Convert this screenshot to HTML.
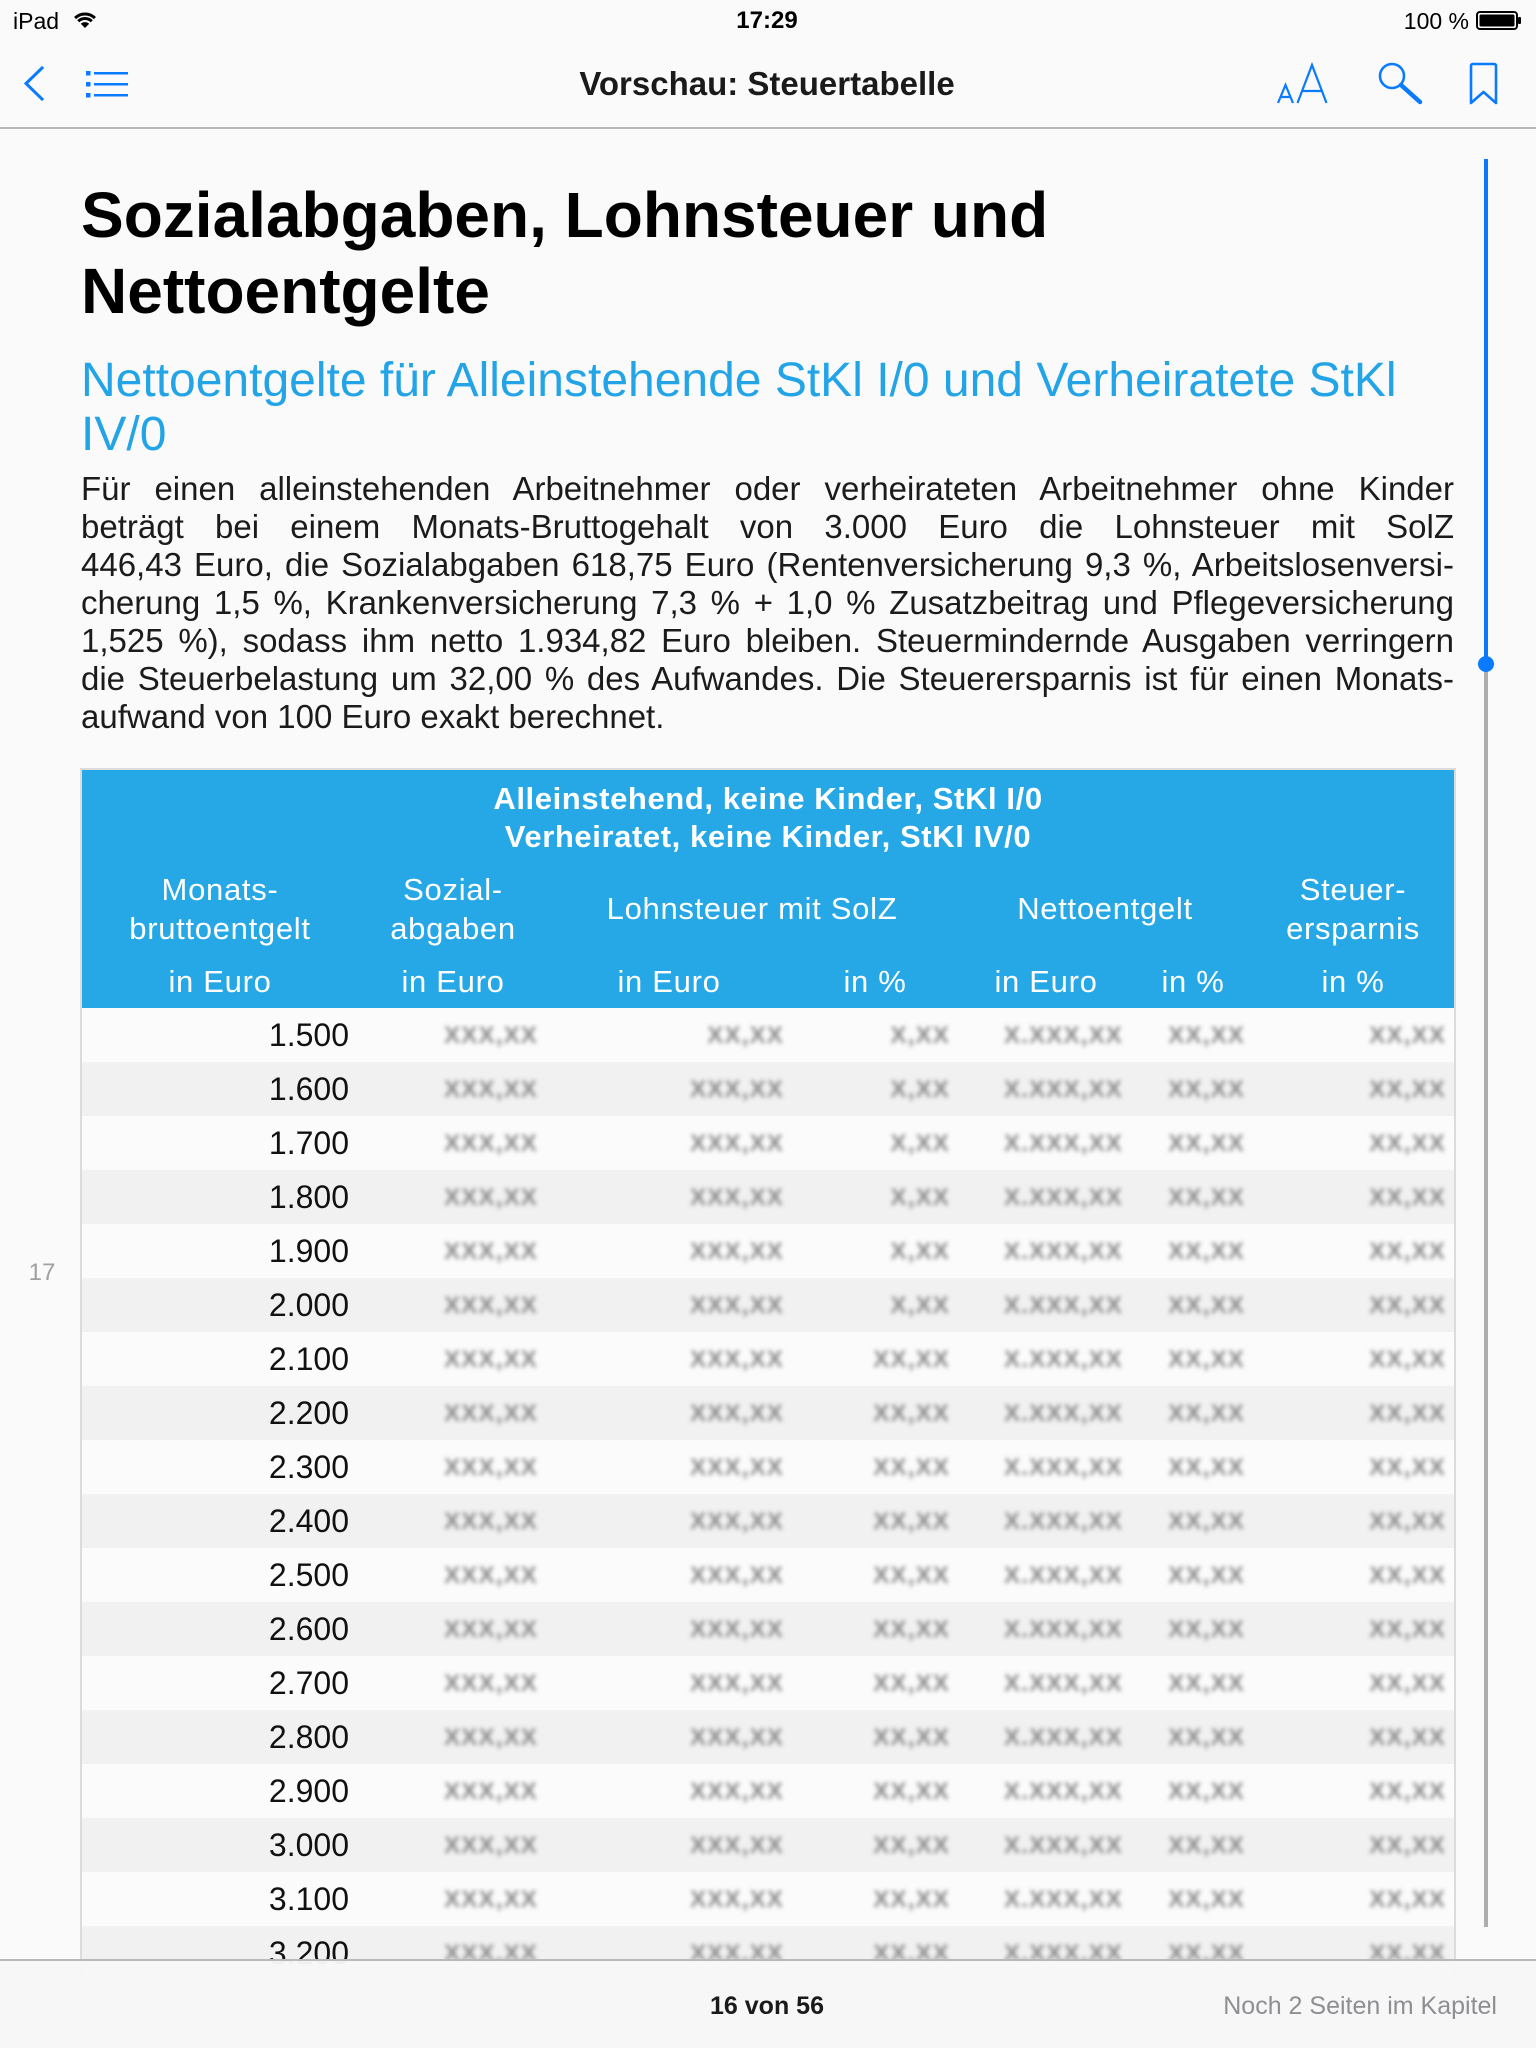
<!DOCTYPE html>
<html><head><meta charset="utf-8">
<style>
*{box-sizing:border-box}
body{margin:0;width:1536px;height:2048px;background:#FAFAFA;position:relative;overflow:hidden;font-family:"Liberation Sans",Arial,sans-serif;color:#111}
.a{position:absolute;white-space:nowrap}
.c{text-align:center}
.h1{left:81px;font-size:64px;font-weight:bold;line-height:76px;color:#000}
.h2{left:81px;font-size:48px;line-height:54px;color:#22A4E6}
.p{position:absolute;left:81px;top:470px;width:1373px;font-size:33px;line-height:38px;color:#1b1b1b}
.j{text-align:justify;text-align-last:justify;height:38px;white-space:normal}
.tbl{position:absolute;left:80px;top:768px;width:1376px;height:1214px;border:2px solid #DCDCDC;border-bottom:none;background:#FBFBFB;overflow:hidden}
.hd{position:absolute;left:0;top:0;width:1372px;height:238px;background:#26A8E6;color:#fff}
.gt{position:absolute;left:0;width:1372px;text-align:center;font-size:31px;font-weight:bold;letter-spacing:0.6px;line-height:38px}
.ch{position:absolute;width:300px;text-align:center;font-size:31px;letter-spacing:0.7px;line-height:38px;white-space:nowrap}
.r{position:absolute;left:0;width:1372px;height:54px}
.r.g{background:#F1F1F1}
.n{position:absolute;right:1105px;top:0;line-height:54px;font-size:32px;color:#111}
.b{position:absolute;top:0;line-height:56px;font-size:24px;font-weight:bold;letter-spacing:1.2px;color:#8a8a8a;filter:blur(2.2px)}
.c2{right:916px}.c3{right:670px}.c4{right:504px}.c5{right:331px}.c6{right:209px}.c7{right:8px}
</style></head><body>

<!-- status bar -->
<div class="a" style="left:13px;top:6px;font-size:23px;line-height:30px;color:#000">iPad</div>
<svg class="a" style="left:0;top:0" width="1536" height="40">
  <g fill="none" stroke="#000" stroke-width="3">
    <path d="M75.1 18.1 A14 14 0 0 1 94.9 18.1"/>
    <path d="M78.3 21.3 A9.5 9.5 0 0 1 91.7 21.3"/>
  </g>
  <path d="M85 28 L80.8 23.8 A6 6 0 0 1 89.2 23.8 Z" fill="#000"/>
  <rect x="1477" y="12" width="40" height="17" rx="3" fill="none" stroke="#000" stroke-width="2"/>
  <rect x="1479.5" y="14.5" width="35" height="12" rx="1.5" fill="#000"/>
  <rect x="1518" y="17" width="3" height="7" rx="1" fill="#000"/>
</svg>
<div class="a c" style="left:667px;width:200px;top:6px;font-size:24px;font-weight:bold;line-height:30px;color:#000">17:29</div>
<div class="a" style="right:67px;top:6px;font-size:23px;line-height:30px;color:#000">100 %</div>

<!-- nav bar -->
<div class="a c" style="left:467px;width:600px;top:64px;font-size:33px;font-weight:bold;line-height:40px;color:#1a1a1a">Vorschau: Steuertabelle</div>
<div class="a" style="left:0;top:127px;width:1536px;height:2px;background:#B9B9B9"></div>
<svg class="a" style="left:0;top:0" width="1536" height="128">
  <g fill="none" stroke="#0A7AFF" stroke-width="3" stroke-linecap="square">
    <polyline points="42,68 26,83.5 42,99"/>
  </g>
  <g fill="#0A7AFF">
    <rect x="86" y="71" width="4.5" height="4.5"/>
    <rect x="86" y="82" width="4.5" height="4.5"/>
    <rect x="86" y="93" width="4.5" height="4.5"/>
    <rect x="94" y="72" width="34" height="2.5"/>
    <rect x="94" y="83" width="34" height="2.5"/>
    <rect x="94" y="94" width="34" height="2.5"/>
  </g>
  <g fill="none" stroke="#0A7AFF" stroke-width="2.2">
    <path d="M1278 103 L1285.5 85 L1293 103 M1281 97 H1290"/>
    <path d="M1297.5 103 L1312 65 L1326.5 103 M1302.5 91 H1321.5"/>
    <circle cx="1392" cy="76" r="12" stroke-width="2.6"/>
    <path d="M1471 103 V66 Q1471 64 1473 64 H1494 Q1496 64 1496 66 V103 L1483.5 92 Z" stroke-width="2.6" stroke-linejoin="round"/>
  </g>
  <path d="M1401 85 L1420 102" stroke="#0A7AFF" stroke-width="4.5" stroke-linecap="round"/>
</svg>

<!-- headings -->
<div class="a h1" style="top:177px">Sozialabgaben, Lohnsteuer und</div>
<div class="a h1" style="top:253px">Nettoentgelte</div>
<div class="a h2" style="top:354px">Nettoentgelte für Alleinstehende StKl I/0 und Verheiratete StKl</div>
<div class="a h2" style="top:408px">IV/0</div>

<div class="p">
<div class="j">Für einen alleinstehenden Arbeitnehmer oder verheirateten Arbeitnehmer ohne Kinder</div>
<div class="j">beträgt bei einem Monats-Bruttogehalt von 3.000 Euro die Lohnsteuer mit SolZ</div>
<div class="j">446,43 Euro, die Sozialabgaben 618,75 Euro (Rentenversicherung 9,3 %, Arbeitslosenversi-</div>
<div class="j">cherung 1,5 %, Krankenversicherung 7,3 % + 1,0 % Zusatzbeitrag und Pflegeversicherung</div>
<div class="j">1,525 %), sodass ihm netto 1.934,82 Euro bleiben. Steuermindernde Ausgaben verringern</div>
<div class="j">die Steuerbelastung um 32,00 % des Aufwandes. Die Steuerersparnis ist für einen Monats-</div>
<div style="height:38px;white-space:nowrap">aufwand von 100 Euro exakt berechnet.</div>
</div>

<!-- page number -->
<div class="a c" style="left:22px;width:40px;top:1258px;font-size:24px;line-height:30px;color:#A0A0A0">17</div>

<!-- table -->
<div class="tbl">
  <div class="hd">
    <div class="gt" style="top:10px">Alleinstehend, keine Kinder, StKl I/0</div>
    <div class="gt" style="top:48px">Verheiratet, keine Kinder, StKl IV/0</div>
    <div class="ch" style="left:-12px;top:101px">Monats-</div>
    <div class="ch" style="left:-12px;top:140px">bruttoentgelt</div>
    <div class="ch" style="left:221px;top:101px">Sozial-</div>
    <div class="ch" style="left:221px;top:140px">abgaben</div>
    <div class="ch" style="left:520px;top:120px;width:300px">Lohnsteuer mit SolZ</div>
    <div class="ch" style="left:873px;top:120px">Nettoentgelt</div>
    <div class="ch" style="left:1121px;top:101px">Steuer-</div>
    <div class="ch" style="left:1121px;top:140px">ersparnis</div>
    <div class="ch" style="left:-12px;top:193px">in Euro</div>
    <div class="ch" style="left:221px;top:193px">in Euro</div>
    <div class="ch" style="left:437px;top:193px">in Euro</div>
    <div class="ch" style="left:643px;top:193px">in %</div>
    <div class="ch" style="left:814px;top:193px">in Euro</div>
    <div class="ch" style="left:961px;top:193px">in %</div>
    <div class="ch" style="left:1121px;top:193px">in %</div>
  </div>

  <div class="r" style="top:238px"><span class="n">1.500</span><b class="b c2">XXX,XX</b><b class="b c3">XX,XX</b><b class="b c4">X,XX</b><b class="b c5">X.XXX,XX</b><b class="b c6">XX,XX</b><b class="b c7">XX,XX</b></div>
  <div class="r g" style="top:292px"><span class="n">1.600</span><b class="b c2">XXX,XX</b><b class="b c3">XXX,XX</b><b class="b c4">X,XX</b><b class="b c5">X.XXX,XX</b><b class="b c6">XX,XX</b><b class="b c7">XX,XX</b></div>
  <div class="r" style="top:346px"><span class="n">1.700</span><b class="b c2">XXX,XX</b><b class="b c3">XXX,XX</b><b class="b c4">X,XX</b><b class="b c5">X.XXX,XX</b><b class="b c6">XX,XX</b><b class="b c7">XX,XX</b></div>
  <div class="r g" style="top:400px"><span class="n">1.800</span><b class="b c2">XXX,XX</b><b class="b c3">XXX,XX</b><b class="b c4">X,XX</b><b class="b c5">X.XXX,XX</b><b class="b c6">XX,XX</b><b class="b c7">XX,XX</b></div>
  <div class="r" style="top:454px"><span class="n">1.900</span><b class="b c2">XXX,XX</b><b class="b c3">XXX,XX</b><b class="b c4">X,XX</b><b class="b c5">X.XXX,XX</b><b class="b c6">XX,XX</b><b class="b c7">XX,XX</b></div>
  <div class="r g" style="top:508px"><span class="n">2.000</span><b class="b c2">XXX,XX</b><b class="b c3">XXX,XX</b><b class="b c4">X,XX</b><b class="b c5">X.XXX,XX</b><b class="b c6">XX,XX</b><b class="b c7">XX,XX</b></div>
  <div class="r" style="top:562px"><span class="n">2.100</span><b class="b c2">XXX,XX</b><b class="b c3">XXX,XX</b><b class="b c4">XX,XX</b><b class="b c5">X.XXX,XX</b><b class="b c6">XX,XX</b><b class="b c7">XX,XX</b></div>
  <div class="r g" style="top:616px"><span class="n">2.200</span><b class="b c2">XXX,XX</b><b class="b c3">XXX,XX</b><b class="b c4">XX,XX</b><b class="b c5">X.XXX,XX</b><b class="b c6">XX,XX</b><b class="b c7">XX,XX</b></div>
  <div class="r" style="top:670px"><span class="n">2.300</span><b class="b c2">XXX,XX</b><b class="b c3">XXX,XX</b><b class="b c4">XX,XX</b><b class="b c5">X.XXX,XX</b><b class="b c6">XX,XX</b><b class="b c7">XX,XX</b></div>
  <div class="r g" style="top:724px"><span class="n">2.400</span><b class="b c2">XXX,XX</b><b class="b c3">XXX,XX</b><b class="b c4">XX,XX</b><b class="b c5">X.XXX,XX</b><b class="b c6">XX,XX</b><b class="b c7">XX,XX</b></div>
  <div class="r" style="top:778px"><span class="n">2.500</span><b class="b c2">XXX,XX</b><b class="b c3">XXX,XX</b><b class="b c4">XX,XX</b><b class="b c5">X.XXX,XX</b><b class="b c6">XX,XX</b><b class="b c7">XX,XX</b></div>
  <div class="r g" style="top:832px"><span class="n">2.600</span><b class="b c2">XXX,XX</b><b class="b c3">XXX,XX</b><b class="b c4">XX,XX</b><b class="b c5">X.XXX,XX</b><b class="b c6">XX,XX</b><b class="b c7">XX,XX</b></div>
  <div class="r" style="top:886px"><span class="n">2.700</span><b class="b c2">XXX,XX</b><b class="b c3">XXX,XX</b><b class="b c4">XX,XX</b><b class="b c5">X.XXX,XX</b><b class="b c6">XX,XX</b><b class="b c7">XX,XX</b></div>
  <div class="r g" style="top:940px"><span class="n">2.800</span><b class="b c2">XXX,XX</b><b class="b c3">XXX,XX</b><b class="b c4">XX,XX</b><b class="b c5">X.XXX,XX</b><b class="b c6">XX,XX</b><b class="b c7">XX,XX</b></div>
  <div class="r" style="top:994px"><span class="n">2.900</span><b class="b c2">XXX,XX</b><b class="b c3">XXX,XX</b><b class="b c4">XX,XX</b><b class="b c5">X.XXX,XX</b><b class="b c6">XX,XX</b><b class="b c7">XX,XX</b></div>
  <div class="r g" style="top:1048px"><span class="n">3.000</span><b class="b c2">XXX,XX</b><b class="b c3">XXX,XX</b><b class="b c4">XX,XX</b><b class="b c5">X.XXX,XX</b><b class="b c6">XX,XX</b><b class="b c7">XX,XX</b></div>
  <div class="r" style="top:1102px"><span class="n">3.100</span><b class="b c2">XXX,XX</b><b class="b c3">XXX,XX</b><b class="b c4">XX,XX</b><b class="b c5">X.XXX,XX</b><b class="b c6">XX,XX</b><b class="b c7">XX,XX</b></div>
  <div class="r g" style="top:1156px"><span class="n">3.200</span><b class="b c2">XXX,XX</b><b class="b c3">XXX,XX</b><b class="b c4">XX,XX</b><b class="b c5">X.XXX,XX</b><b class="b c6">XX,XX</b><b class="b c7">XX,XX</b></div>
</div>

<!-- scrollbar -->
<div class="a" style="left:1484px;top:159px;width:4px;height:506px;background:#0A7AFF"></div>
<div class="a" style="left:1484px;top:665px;width:4px;height:1262px;background:#ADADAD"></div>
<div class="a" style="left:1478px;top:656px;width:16px;height:16px;border-radius:50%;background:#0A7AFF"></div>

<!-- bottom toolbar -->
<div class="a" style="left:0;top:1959px;width:1536px;height:89px;background:rgba(247,247,247,0.97);border-top:2px solid #B9B9B9"></div>
<div class="a c" style="left:617px;width:300px;top:1990px;font-size:25px;font-weight:bold;line-height:32px;color:#1a1a1a">16 von 56</div>
<div class="a" style="right:39px;top:1990px;font-size:25px;line-height:32px;color:#8E8E93">Noch 2 Seiten im Kapitel</div>

</body></html>
